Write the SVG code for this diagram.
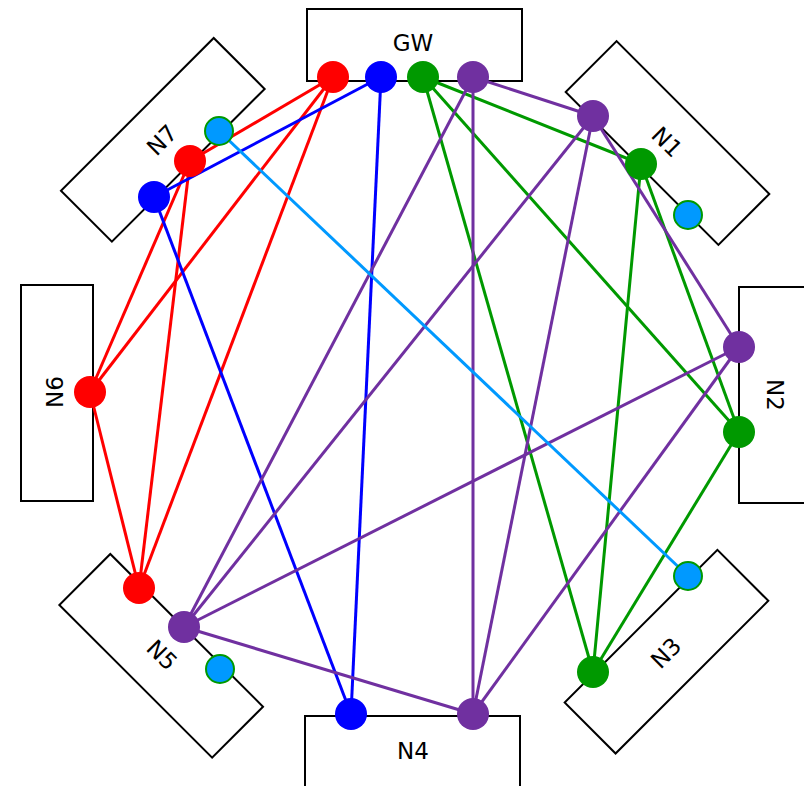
<svg xmlns="http://www.w3.org/2000/svg" width="804" height="786" viewBox="0 0 804 786">
<style>
.box{fill:#ffffff;stroke:#000000;stroke-width:2}
.lbl{font-family:"DejaVu Sans",sans-serif;font-size:23px;fill:#000000;text-anchor:middle}
.e{fill:none;stroke-width:3}
.r{stroke:#ff0000}.b{stroke:#0000ff}.g{stroke:#009900}.p{stroke:#7030a0}.lb{stroke:#0099ff}
.pr{fill:#ff0000}.pb{fill:#0000ff}.pg{fill:#009900}.pp{fill:#7030a0}
.plb{fill:#0099ff;stroke:#009900;stroke-width:2}
</style>
<rect width="804" height="786" fill="#ffffff"/>
<g id="boxes">
<rect class="box" x="307" y="9" width="215" height="72"/>
<rect class="box" x="-108" y="-36" width="216" height="72" transform="translate(667.5,143) rotate(45)"/>
<rect class="box" x="739" y="287" width="80" height="216"/>
<rect class="box" x="-108" y="-36" width="216" height="72" transform="translate(666.5,651.7) rotate(-45)"/>
<rect class="box" x="305" y="716" width="215" height="80"/>
<rect class="box" x="-108" y="-36" width="216" height="72" transform="translate(161.2,655.8) rotate(45)"/>
<rect class="box" x="21" y="285" width="72" height="216"/>
<rect class="box" x="-108" y="-36" width="216" height="72" transform="translate(162.8,139.8) rotate(-45)"/>
</g>
<g id="connectors">
<line class="e r" x1="333" y1="77" x2="190" y2="161"/>
<line class="e r" x1="333" y1="77" x2="90" y2="392"/>
<line class="e r" x1="333" y1="77" x2="139" y2="588"/>
<line class="e r" x1="190" y1="161" x2="90" y2="392"/>
<line class="e r" x1="190" y1="161" x2="139" y2="588"/>
<line class="e r" x1="90" y1="392" x2="139" y2="588"/>
<line class="e b" x1="381" y1="77" x2="154" y2="197"/>
<line class="e b" x1="381" y1="77" x2="351" y2="714"/>
<line class="e b" x1="154" y1="197" x2="351" y2="714"/>
<line class="e g" x1="423" y1="77" x2="641" y2="164"/>
<line class="e g" x1="423" y1="77" x2="739" y2="432"/>
<line class="e g" x1="423" y1="77" x2="593" y2="672"/>
<line class="e g" x1="641" y1="164" x2="739" y2="432"/>
<line class="e g" x1="641" y1="164" x2="593" y2="672"/>
<line class="e g" x1="739" y1="432" x2="593" y2="672"/>
<line class="e p" x1="473" y1="77" x2="593" y2="116"/>
<line class="e p" x1="473" y1="77" x2="184" y2="627"/>
<line class="e p" x1="473" y1="77" x2="473" y2="714"/>
<line class="e p" x1="593" y1="116" x2="739" y2="347"/>
<line class="e p" x1="593" y1="116" x2="184" y2="627"/>
<line class="e p" x1="593" y1="116" x2="473" y2="714"/>
<line class="e p" x1="739" y1="347" x2="184" y2="627"/>
<line class="e p" x1="739" y1="347" x2="473" y2="714"/>
<line class="e p" x1="184" y1="627" x2="473" y2="714"/>
<line class="e lb" x1="219" y1="131" x2="688" y2="576"/>
</g>
<g id="GW">
<text class="lbl" x="413" y="51">GW</text>
<circle class="pr" cx="333" cy="77" r="16"/>
<circle class="pb" cx="381" cy="77" r="16"/>
<circle class="pg" cx="423" cy="77" r="16"/>
<circle class="pp" cx="473" cy="77" r="16"/>
</g>
<g id="N1">
<text class="lbl" x="0" y="8" transform="translate(667,142) rotate(45)">N1</text>
<circle class="pp" cx="593" cy="116" r="16"/>
<circle class="pg" cx="641" cy="164" r="16"/>
<circle class="plb" cx="688" cy="215" r="14"/>
</g>
<g id="N2">
<text class="lbl" x="0" y="8" transform="translate(775,395) rotate(90)">N2</text>
<circle class="pp" cx="739" cy="347" r="16"/>
<circle class="pg" cx="739" cy="432" r="16"/>
</g>
<g id="N3">
<text class="lbl" x="0" y="8" transform="translate(666,653) rotate(-45)">N3</text>
<circle class="plb" cx="688" cy="576" r="14"/>
<circle class="pg" cx="593" cy="672" r="16"/>
</g>
<g id="N4">
<text class="lbl" x="413" y="759">N4</text>
<circle class="pb" cx="351" cy="714" r="16"/>
<circle class="pp" cx="473" cy="714" r="16"/>
</g>
<g id="N5">
<text class="lbl" x="0" y="8" transform="translate(162,655) rotate(45)">N5</text>
<circle class="pr" cx="139" cy="588" r="16"/>
<circle class="pp" cx="184" cy="627" r="16"/>
<circle class="plb" cx="220" cy="669" r="14"/>
</g>
<g id="N6">
<text class="lbl" x="0" y="8" transform="translate(55,392) rotate(-90)">N6</text>
<circle class="pr" cx="90" cy="392" r="16"/>
</g>
<g id="N7">
<text class="lbl" x="0" y="8" transform="translate(162,140) rotate(-45)">N7</text>
<circle class="plb" cx="219" cy="131" r="14"/>
<circle class="pr" cx="190" cy="161" r="16"/>
<circle class="pb" cx="154" cy="197" r="16"/>
</g>
</svg>
